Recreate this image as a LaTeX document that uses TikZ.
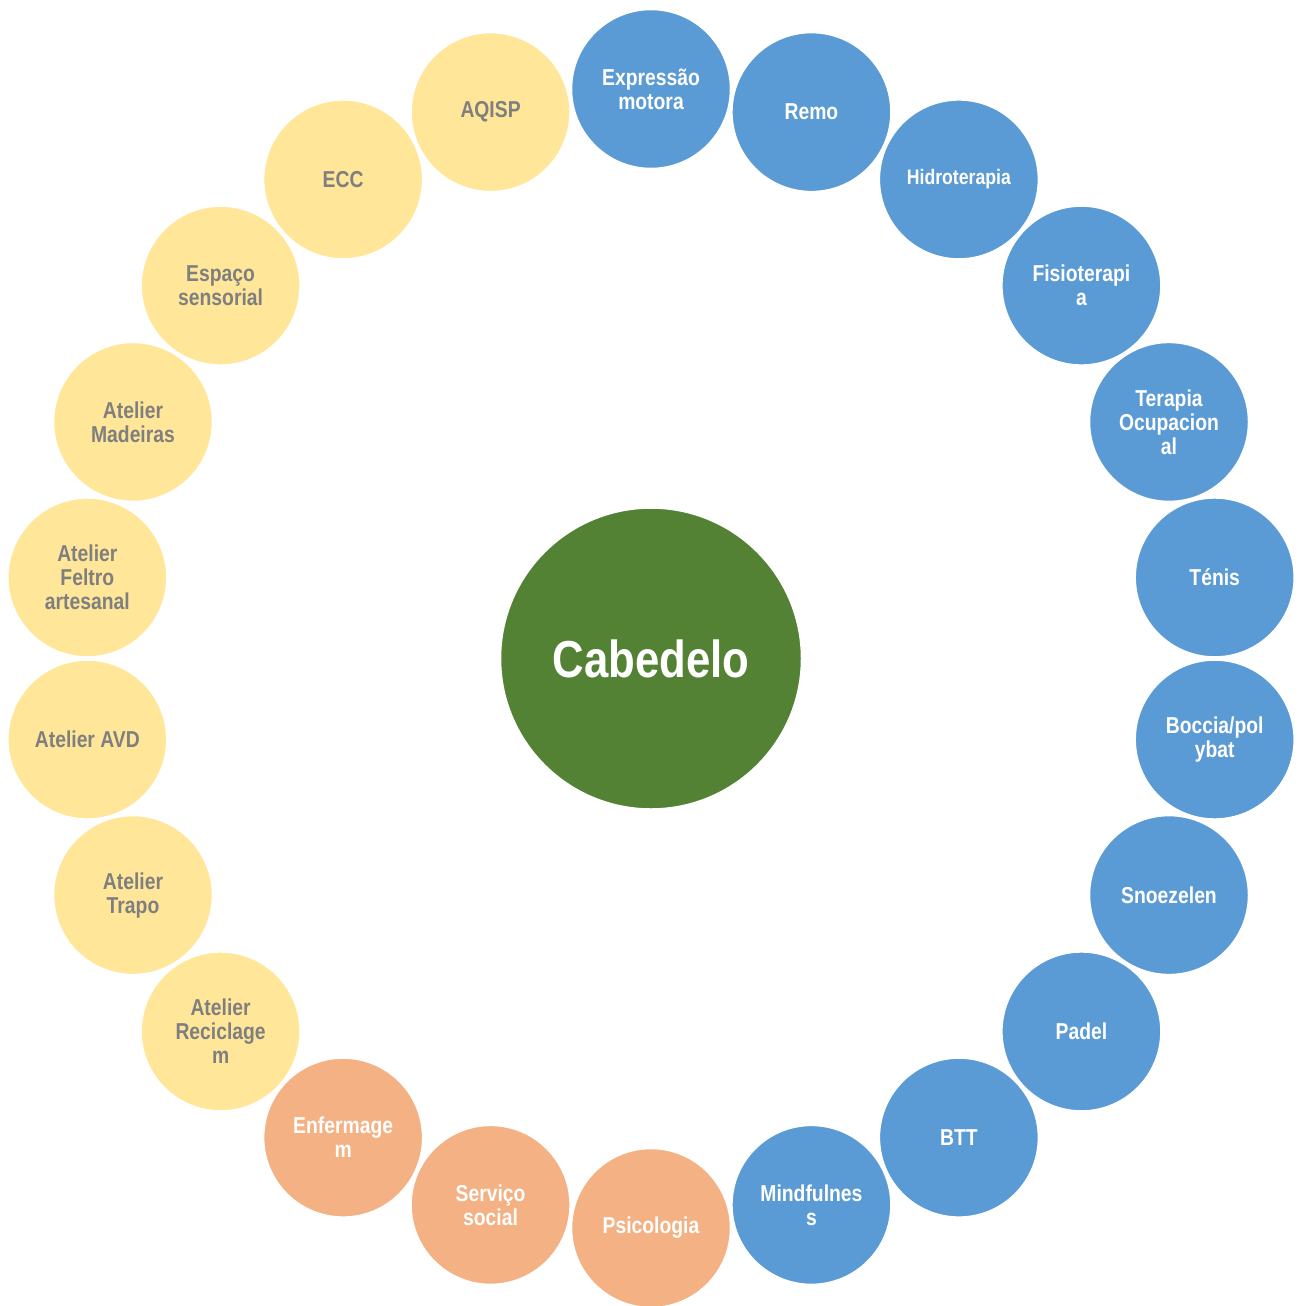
\documentclass[tikz,border=0pt]{standalone}
\usepackage{fontspec}
\newfontfamily\nar[FakeStretch=0.84]{Liberation Sans}
\definecolor{cblue}{HTML}{5B9BD5}
\definecolor{cyellow}{HTML}{FFE699}
\definecolor{corange}{HTML}{F4B183}
\definecolor{cgreen}{HTML}{548235}
\definecolor{cgray}{HTML}{7F7F7F}
\tikzset{
  sat/.style={circle,draw=white,line width=1.5pt,minimum size=159pt,inner sep=0pt,
    align=center,font=\nar\bfseries\fontsize{23pt}{24pt}\selectfont},
  sblue/.style={sat,fill=cblue,text=white},
  sorange/.style={sat,fill=corange,text=white},
  syellow/.style={sat,fill=cyellow,text=cgray},
  hub/.style={circle,draw=white,line width=1.5pt,minimum size=301pt,fill=cgreen,text=white,
    font=\nar\bfseries\fontsize{52pt}{56pt}\selectfont},
}
\newcommand{\pos}[1]{({651+569.5*sin(#1*360/22)},{658.5-569.5*cos(#1*360/22)})}
\begin{document}
\begin{tikzpicture}[x=1pt,y=-1pt]
\useasboundingbox (0,0) rectangle (1298,1306);
\node[hub] (c) at (651,658.5) {Cabedelo};
\node[sblue] (n0) at \pos{0} {Expressão\\motora};
\node[sblue] (n1) at \pos{1} {Remo};
\node[sblue,font=\nar\bfseries\fontsize{21pt}{24pt}\selectfont] (n2) at \pos{2} {Hidroterapia};
\node[sblue] (n3) at \pos{3} {Fisioterapi\\a};
\node[sblue] (n4) at \pos{4} {Terapia\\Ocupacion\\al};
\node[sblue] (n5) at \pos{5} {Ténis};
\node[sblue] (n6) at \pos{6} {Boccia/pol\\ybat};
\node[sblue] (n7) at \pos{7} {Snoezelen};
\node[sblue] (n8) at \pos{8} {Padel};
\node[sblue] (n9) at \pos{9} {BTT};
\node[sblue] (n10) at \pos{10} {Mindfulnes\\s};
\node[sorange] (n11) at \pos{11} {Psicologia};
\node[sorange] (n12) at \pos{12} {Serviço\\social};
\node[sorange] (n13) at \pos{13} {Enfermage\\m};
\node[syellow] (n14) at \pos{14} {Atelier\\Reciclage\\m};
\node[syellow] (n15) at \pos{15} {Atelier\\Trapo};
\node[syellow] (n16) at \pos{16} {Atelier AVD};
\node[syellow] (n17) at \pos{17} {Atelier\\Feltro\\artesanal};
\node[syellow] (n18) at \pos{18} {Atelier\\Madeiras};
\node[syellow] (n19) at \pos{19} {Espaço\\sensorial};
\node[syellow] (n20) at \pos{20} {ECC};
\node[syellow] (n21) at \pos{21} {AQISP};
\end{tikzpicture}
\end{document}
